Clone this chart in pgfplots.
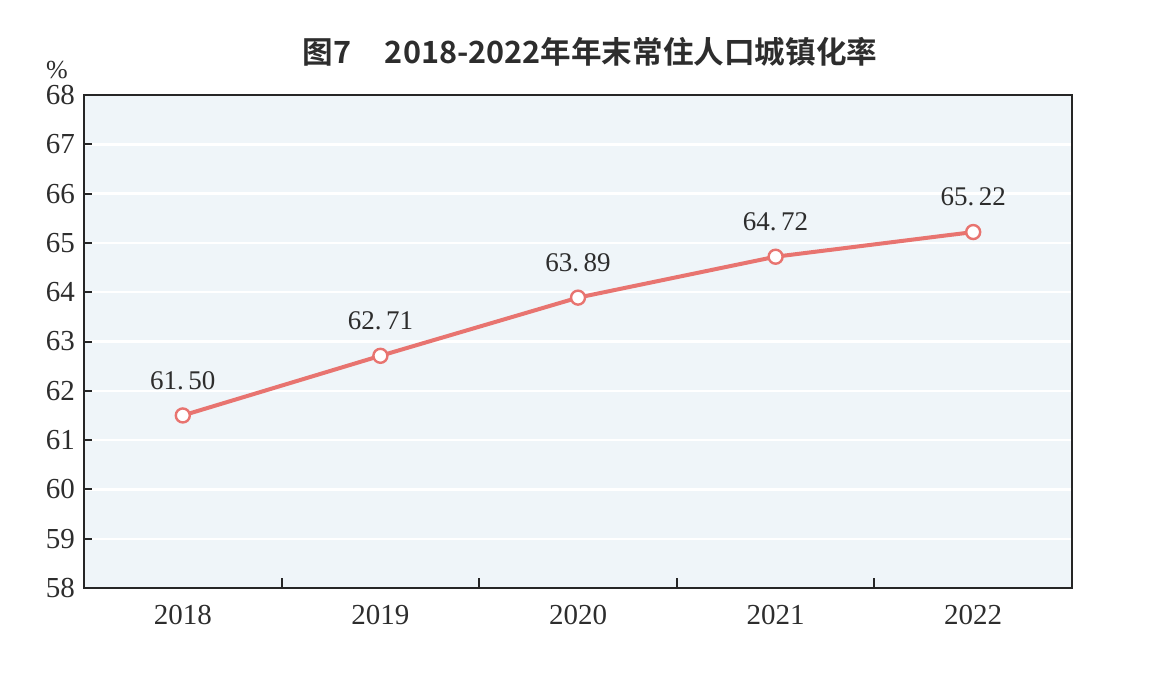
\documentclass[border=0pt]{standalone}
\usepackage{pgfplots}
\pgfplotsset{compat=1.18}
\usepackage{fontspec}
\setmainfont{Liberation Serif}
\newfontfamily\cjk{Noto Sans CJK SC}[BoldFont={Noto Sans CJK SC Bold}]
\definecolor{bgblue}{RGB}{239,245,249}
\definecolor{linered}{RGB}{232,116,112}
\definecolor{txtgray}{RGB}{45,45,45}
\begin{document}
\begin{tikzpicture}
\path[use as bounding box] (0pt,0pt) rectangle (575pt,341pt);
\node[font=\cjk\bfseries\fontsize{15.3}{18}\selectfont, text=txtgray] at (295pt,315pt) {图7\hspace{1.1em}2018-2022年年末常住人口城镇化率};
\node[font=\fontsize{13}{15}\selectfont, text=txtgray] at (28.5pt,306pt) {\%};
\begin{axis}[
  at={(42pt,47pt)}, anchor=south west,
  scale only axis,
  width=494pt, height=246.5pt,
  xmin=-0.5, xmax=4.5, ymin=58, ymax=68,
  axis background/.style={fill=bgblue},
  axis line style={line width=1pt, black!85},
  xtick={0,1,2,3,4},
  xticklabels={2018,2019,2020,2021,2022},
  major x tick style={draw=none},
  minor xtick={0.5,1.5,2.5,3.5},
  minor tick length=5pt,
  minor tick style={line width=1pt, black!85},
  ytick={58,...,68},
  major tick length=4pt,
  ytick style={line width=1pt, black!85},
  tick align=inside,
  xtick pos=bottom, ytick pos=left,
  ymajorgrids,
  grid style={white, line width=1.2pt},
  tick label style={font=\fontsize{14.5}{16}\selectfont, text=txtgray},
  yticklabel style={xshift=-1pt},
  xticklabel style={yshift=-5pt},
  /pgf/number format/assume math mode=true,
  nodes near coords,
  point meta=explicit symbolic,
  every node near coord/.append style={font=\fontsize{13.5}{15}\selectfont, text=txtgray, anchor=south, yshift=9pt},
]
\addplot[color=linered, line width=2pt, mark=*, mark size=3.5pt,
  mark options={fill=white, draw=linered, line width=1.2pt}]
  coordinates {(0,61.50) [61.\,50] (1,62.71) [62.\,71] (2,63.89) [63.\,89] (3,64.72) [64.\,72] (4,65.22) [65.\,22]};
\end{axis}
\end{tikzpicture}
\end{document}
